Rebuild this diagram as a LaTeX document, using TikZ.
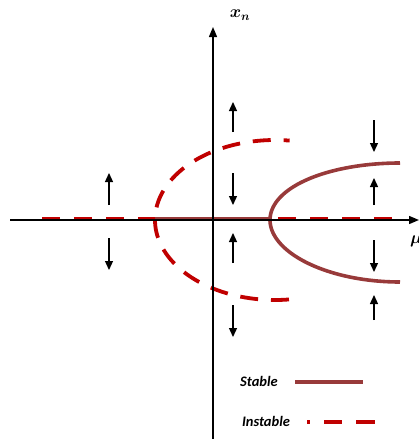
\documentclass[tikz,border=0pt]{standalone}
\usepackage{fontspec}
\usepackage{amsmath,bm}
\newfontfamily\legendfont{Carlito}
\usetikzlibrary{arrows.meta}
\definecolor{stablec}{HTML}{983A3A}
\definecolor{instablec}{HTML}{C00000}
\tikzset{
  axis/.style={line width=1.4pt,-{Triangle[length=10pt,width=8pt]}},
  flow/.style={line width=1.3pt,-{Triangle[length=9pt,width=8pt]}},
  stableline/.style={stablec,line width=3.6pt},
  instableline/.style={instablec,line width=3.8pt,dash pattern=on 18pt off 14pt},
  legendtext/.style={font=\legendfont\bfseries\itshape\fontsize{14.5}{16}\selectfont,inner sep=0pt}
}
\begin{document}
\begin{tikzpicture}[x=1pt,y=-1pt]
\useasboundingbox (0,0) rectangle (419,439);
% axes
\coordinate (hl) at (10,220);
\coordinate (hr) at (419,220);
\coordinate (vb) at (213,439);
\coordinate (vt) at (213,27);
% branches
\draw[stableline] (155,219) -- (270,219);
\draw[instableline] (42,219) -- (155,219);
\draw[instableline] (278,219) -- (395,219);
\draw[stableline] plot[domain=90:270,samples=80] ({400+130*cos(\x)},{220-(59.5-2.5*sin(\x))*sin(\x)});
\draw[instablec,line width=3.8pt,dash pattern=on 6pt off 12.9pt on 18pt off 12.9pt on 18pt off 12.9pt on 18pt off 12.9pt on 18pt off 12.9pt on 18pt off 12.9pt on 18pt off 12.9pt on 18pt off 12.9pt on 18pt off 12.9pt on 18pt off 12.9pt on 18pt off 12.9pt on 18pt off 12.9pt on 30pt off 12.9pt]
  plot[domain=83:277,samples=100] ({275+120*cos(\x)},{220-80*sin(\x)});
\draw[axis] (hl) -- (hr);
\draw[axis] (vb) -- (vt);
\node[font=\fontsize{18}{20}\selectfont,inner sep=0pt] (xn) at (240,15) {$\bm{x_n}$};
\node[font=\fontsize{17}{19}\selectfont,inner sep=0pt,anchor=west] (mu) at (410,241) {$\bm{\mu}$};
% flow arrows
\draw[flow] (109,205) -- (109,173);
\draw[flow] (109,238) -- (109,270);
\draw[flow] (233,132) -- (233,102);
\draw[flow] (233,173) -- (233,205);
\draw[flow] (233,263) -- (233,233);
\draw[flow] (233,305) -- (233,337);
\draw[flow] (374,120) -- (374,152);
\draw[flow] (374,205) -- (374,178);
\draw[flow] (374,240) -- (374,272);
\draw[flow] (374,320) -- (374,295);
% legend
\node[legendtext] (st) at (259,381) {Stable};
\coordinate (sa) at (295,382);
\coordinate (sb) at (363,382);
\draw[stableline,line width=3.4pt] (sa) -- (sb);
\node[legendtext] (inst) at (266,421) {Instable};
\coordinate (ia) at (307,422);
\coordinate (ib) at (375,422);
\draw[instablec,line width=3.6pt,dash pattern=on 2.5pt off 14.5pt on 18pt off 14pt on 19pt off 20pt] (ia) -- (ib);
\end{tikzpicture}
\end{document}
